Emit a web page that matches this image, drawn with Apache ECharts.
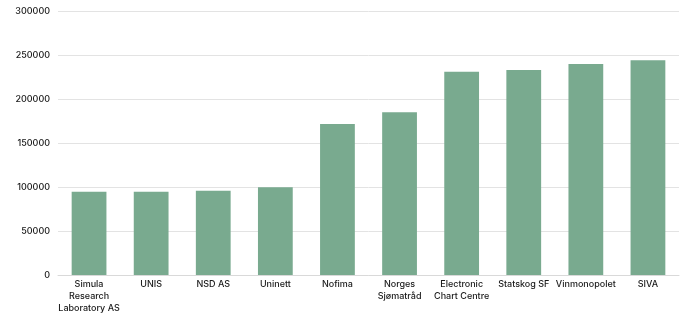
<!DOCTYPE html>
<html>
<head>
<meta charset="utf-8">
<script src="https://cdn.jsdelivr.net/npm/echarts@6/dist/echarts.min.js"></script>
<style>
  html, body { margin: 0; padding: 0; background: #fff; }
  #chart { width: 686px; height: 316px; }
</style>
</head>
<body>
<div id="chart"></div>
<script>
const categories = ['Simula\nResearch\nLaboratory AS', 'UNIS', 'NSD AS', 'Uninett', 'Nofima',
  'Norges\nSjømatråd', 'Electronic\nChart Centre', 'Statskog SF', 'Vinmonopolet', 'SIVA']
const values = [94700, 94500, 95800, 99600, 171500, 185000, 231000, 233000, 239800, 244000]
const yTicks = { min: 0, max: 300000, interval: 50000 }

const chart = echarts.init(document.getElementById('chart'), null, { renderer: 'canvas' })

const option = {
  animation: false,
  backgroundColor: '#fff',
  textStyle: { fontFamily: 'Inter, "Liberation Sans", sans-serif' },
  grid: { left: 58, right: 7, top: 11, bottom: 41, containLabel: false, outerBoundsMode: 'none' },
  xAxis: {
    type: 'category',
    data: categories,
    axisLine: { show: true, lineStyle: { color: '#d9d9d9', width: 1 } },
    axisTick: { show: false },
    axisLabel: {
      interval: 0, color: '#1a1a1a', fontSize: 9, fontWeight: 500, lineHeight: 12, margin: 3
    }
  },
  yAxis: {
    type: 'value',
    min: yTicks.min, max: yTicks.max, interval: yTicks.interval,
    axisLine: { show: false },
    axisTick: { show: false },
    splitLine: { lineStyle: { color: '#e3e3e3', width: 1 } },
    axisLabel: { color: '#1a1a1a', fontSize: 9, fontWeight: 500, margin: 8, formatter: v => String(v) }
  },
  series: [{
    type: 'bar',
    data: values,
    barWidth: '56%',
    itemStyle: { color: '#79aa8f' }
  }]
}
chart.setOption(option)
</script>
</body>
</html>
